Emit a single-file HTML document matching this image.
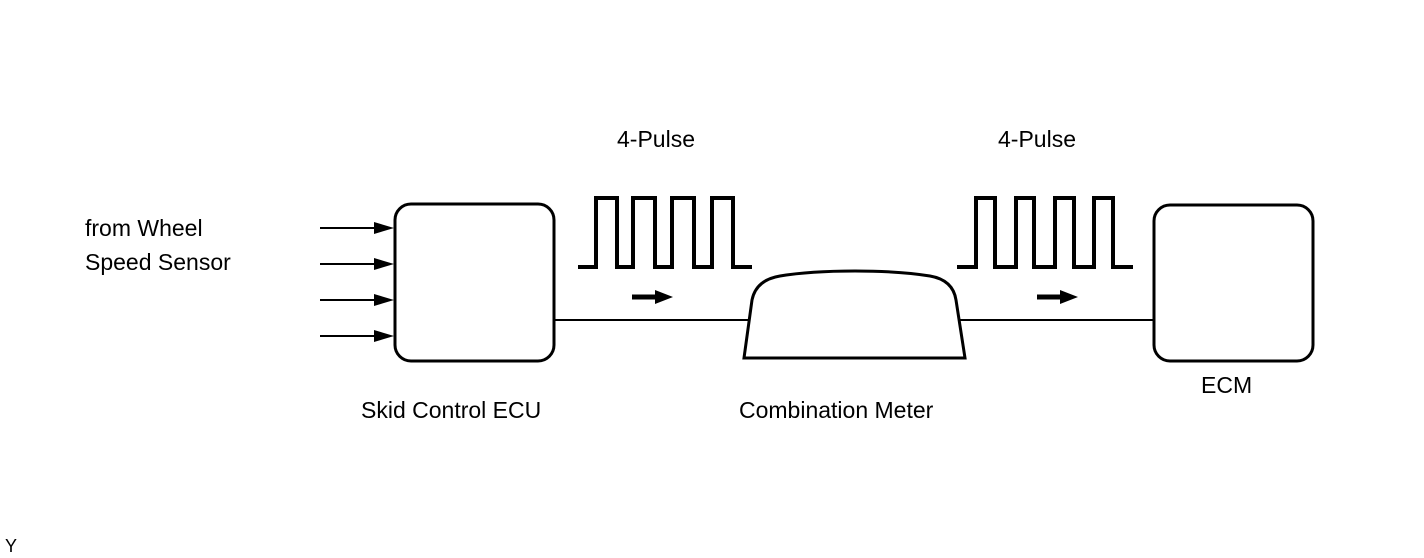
<!DOCTYPE html>
<html><head><meta charset="utf-8"><style>html,body{margin:0;padding:0;background:#fff}svg{display:block}</style></head>
<body>
<svg width="1424" height="558" viewBox="0 0 1424 558" xmlns="http://www.w3.org/2000/svg" font-family="Liberation Sans, sans-serif" fill="#000">
<g stroke="#000" fill="none">
<rect x="395" y="204" width="159" height="157" rx="16" stroke-width="3"/>
<rect x="1154" y="205" width="159" height="156" rx="16" stroke-width="3"/>
<path d="M744 358 L752 300 Q756 280 780 276 Q810 271 855 271 Q900 271 930 276 Q953 280 956 300 L965 358 Z" stroke-width="3"/>
<path d="M578 267 H596 V198 H617 V267 H633 V198 H655 V267 H672 V198 H694 V267 H712 V198 H733 V267 H752" stroke-width="4"/>
<path d="M957 267 H976 V198 H995 V267 H1016 V198 H1034 V267 H1055 V198 H1074 V267 H1094 V198 H1113 V267 H1133" stroke-width="4"/>
<line x1="554" y1="320" x2="749" y2="320" stroke-width="2"/>
<line x1="960" y1="320" x2="1154" y2="320" stroke-width="2"/>
<line x1="320" y1="228" x2="380" y2="228" stroke-width="2"/>
<line x1="320" y1="264" x2="380" y2="264" stroke-width="2"/>
<line x1="320" y1="300" x2="380" y2="300" stroke-width="2"/>
<line x1="320" y1="336" x2="380" y2="336" stroke-width="2"/>
<line x1="632" y1="297" x2="658" y2="297" stroke-width="5"/>
<line x1="1037" y1="297" x2="1063" y2="297" stroke-width="5"/>
</g>
<path d="M374 222 L394 228 L374 234Z M374 258 L394 264 L374 270Z M374 294 L394 300 L374 306Z M374 330 L394 336 L374 342Z"/>
<path d="M655 290 L673 297 L655 304Z M1060 290 L1078 297 L1060 304Z"/>
<g font-size="23">
<text x="617" y="147">4-Pulse</text>
<text x="998" y="147">4-Pulse</text>
<text x="85" y="236">from Wheel</text>
<text x="85" y="270">Speed Sensor</text>
<text x="361" y="418">Skid Control ECU</text>
<text x="739" y="418">Combination Meter</text>
<text x="1201" y="393">ECM</text>
</g>
<text x="5" y="552" font-size="18">Y</text>
</svg>
</body></html>
